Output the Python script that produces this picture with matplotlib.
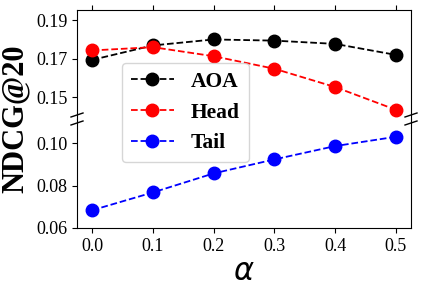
import matplotlib
matplotlib.use("Agg")
import matplotlib.pyplot as plt

plt.rcParams["font.family"] = ["Liberation Serif", "DejaVu Serif"]
plt.rcParams["mathtext.fontset"] = "dejavusans"

alpha = [0.0, 0.1, 0.2, 0.3, 0.4, 0.5]
aoa = [0.1693, 0.1768, 0.1799, 0.1793, 0.1776, 0.1719]
head = [0.1742, 0.1759, 0.1712, 0.1647, 0.1552, 0.1434]
tail = [0.0684, 0.0768, 0.0858, 0.0924, 0.0987, 0.1031]
top_ticks = [0.15, 0.17, 0.19]
bottom_ticks = [0.06, 0.08, 0.10]
x_ticks = [0.0, 0.1, 0.2, 0.3, 0.4, 0.5]

fig = plt.figure(figsize=(4.24, 2.9), dpi=100)
L, R = 77 / 424, 411 / 424
y_top, y_mid, y_bot = 1 - 10 / 290, 1 - 119 / 290, 1 - 228 / 290
ax_top = fig.add_axes([L, y_mid, R - L, y_top - y_mid])
ax_bot = fig.add_axes([L, y_bot, R - L, y_mid - y_bot])

style = dict(linestyle="--", marker="o", markersize=9, linewidth=1.3)
l1, = ax_top.plot(alpha, aoa, color="black", label="AOA", **style)
l2, = ax_top.plot(alpha, head, color="red", label="Head", **style)
l3, = ax_bot.plot(alpha, tail, color="blue", label="Tail", **style)
for ax in (ax_top, ax_bot):
    ax.set_xlim(-0.025, 0.525)
    ax.set_xticks(x_ticks)
    ax.tick_params(labelsize=13)

ax_top.set_ylim(0.1386, 0.1952)
ax_top.set_yticks(top_ticks)
ax_top.set_yticklabels([f"{v:.2f}" for v in top_ticks])
ax_top.spines["bottom"].set_visible(False)
ax_top.xaxis.tick_top()
ax_top.tick_params(axis="x", labeltop=False)

ax_bot.set_ylim(0.06, 0.1115)
ax_bot.set_yticks(bottom_ticks)
ax_bot.set_yticklabels([f"{v:.2f}" for v in bottom_ticks])
ax_bot.spines["top"].set_visible(False)
ax_bot.set_xticklabels([f"{v:.1f}" for v in x_ticks])
ax_bot.set_xlabel(r"$\alpha$", fontsize=22, labelpad=2)

# break marks
for xc in (L, R):
    for dy in (4 / 290, -4 / 290):
        fig.add_artist(plt.Line2D([xc - 6 / 424, xc + 6 / 424],
                                  [y_mid + dy - 2 / 290, y_mid + dy + 2 / 290],
                                  color="black", linewidth=1, transform=fig.transFigure))

fig.text(0.035, (y_top + y_bot) / 2, "NDCG@20", rotation=90, fontsize=22,
         fontweight="bold", ha="center", va="center")

fig.legend(handles=[l1, l2, l3], loc="upper left",
           bbox_to_anchor=(122 / 424, 1 - 63 / 290),
           prop={"size": 15.5, "weight": "bold"}, borderaxespad=0)

fig.savefig("out.png", dpi=100)
